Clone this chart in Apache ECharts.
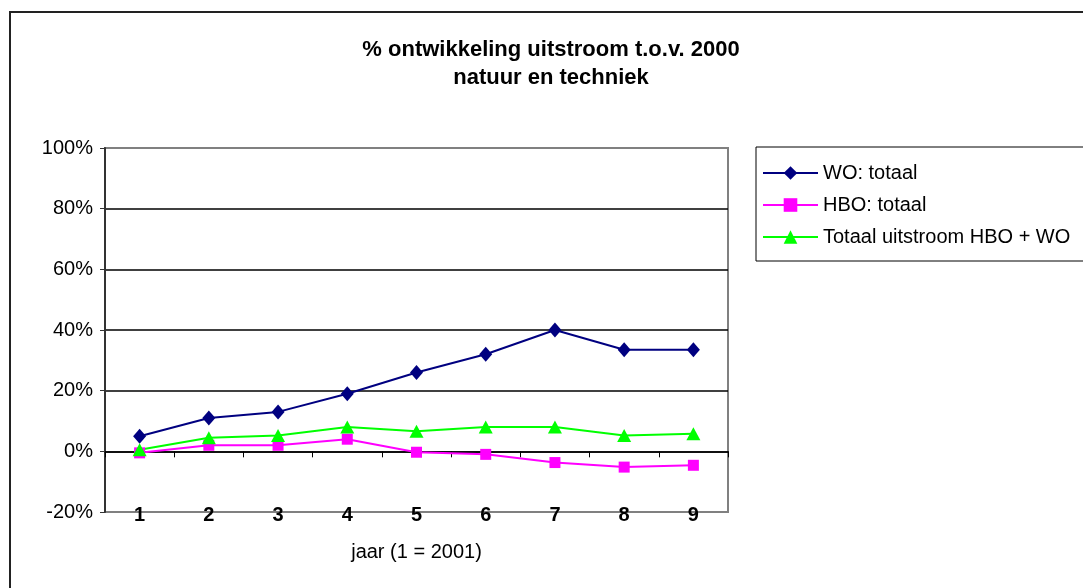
<!DOCTYPE html>
<html>
<head>
<meta charset="utf-8">
<title>% ontwikkeling uitstroom</title>
<script src="https://cdn.jsdelivr.net/npm/echarts@6/dist/echarts.min.js"></script>
<style>
  html, body { margin: 0; padding: 0; background: #fff; }
  #main { width: 1083px; height: 588px; }
</style>
</head>
<body>
<div id="main"></div>
<script>
// data (percent vs 2000)
const jaren = ['1', '2', '3', '4', '5', '6', '7', '8', '9']
const woTotaal = [5, 11, 13, 19, 26, 32, 40, 33.5, 33.5]
const hboTotaal = [-0.5, 2, 2, 4, -0.3, -1, -3.7, -5.2, -4.6]
const totaalUitstroom = [0.5, 4.5, 5.2, 8, 6.6, 8, 8, 5.2, 5.8]

const font = 'Liberation Sans, Arial, sans-serif'

const myChart = echarts.init(document.getElementById('main'))

const option = {
  backgroundColor: '#fff',
  animation: false,
  // outer chart border (cut off on the right and bottom)
  graphic: [{
    type: 'rect',
    shape: { x: 10, y: 12, width: 1200, height: 700 },
    style: { fill: 'none', stroke: '#222', lineWidth: 2 },
    silent: true
  }],
  title: {
    text: '% ontwikkeling uitstroom t.o.v. 2000\nnatuur en techniek',
    left: 546,
    top: 31,
    textAlign: 'center',
    textStyle: {
      fontFamily: font,
      fontSize: 22,
      fontWeight: 'bold',
      color: '#000',
      lineHeight: 28
    }
  },
  legend: {
    orient: 'vertical',
    left: 756,
    top: 147,
    padding: [15, 20, 13, 6],
    itemWidth: 55,
    itemHeight: 17,
    itemGap: 10,
    borderColor: '#000',
    borderWidth: 1,
    textStyle: { fontFamily: font, fontSize: 20, color: '#000', lineHeight: 22 },
    data: ['WO: totaal', 'HBO: totaal', 'Totaal uitstroom HBO + WO']
  },
  grid: {
    left: 105,
    top: 148,
    width: 623,
    height: 364,
    show: true,
    borderColor: '#808080',
    borderWidth: 2,
    backgroundColor: '#fff'
  },
  xAxis: [
    {
      // axis line on 0% with ticks between the years
      type: 'category',
      data: jaren,
      axisLine: { onZero: true, lineStyle: { color: '#000', width: 1.5 } },
      axisTick: { show: true, length: 6, lineStyle: { color: '#000' } },
      axisLabel: { show: false },
      splitLine: { show: false }
    },
    {
      // labels at the bottom of the plot
      type: 'category',
      data: jaren,
      position: 'bottom',
      axisLine: { show: false, onZero: false },
      axisTick: { show: false },
      axisLabel: {
        margin: -7,
        fontFamily: font,
        fontSize: 20,
        fontWeight: 'bold',
        color: '#000'
      },
      name: 'jaar (1 = 2001)',
      nameLocation: 'middle',
      nameGap: 30,
      nameTextStyle: { fontFamily: font, fontSize: 20, color: '#000' }
    }
  ],
  yAxis: {
    type: 'value',
    min: -20,
    max: 100,
    interval: 20,
    axisLine: { show: true, lineStyle: { color: '#333', width: 2 } },
    axisTick: { show: true, length: 5, lineStyle: { color: '#333' } },
    axisLabel: {
      formatter: '{value}%',
      margin: 12,
      fontFamily: font,
      fontSize: 20,
      color: '#000'
    },
    splitLine: {
      show: true,
      showMinLine: false,
      showMaxLine: false,
      lineStyle: { color: '#000', width: 1.5 }
    }
  },
  series: [
    {
      name: 'WO: totaal',
      type: 'line',
      data: woTotaal,
      color: '#000080',
      symbol: 'diamond',
      symbolSize: [13, 15],
      lineStyle: { width: 2 }
    },
    {
      name: 'HBO: totaal',
      type: 'line',
      data: hboTotaal,
      color: '#ff00ff',
      symbol: 'rect',
      symbolSize: 11,
      lineStyle: { width: 2 }
    },
    {
      name: 'Totaal uitstroom HBO + WO',
      type: 'line',
      data: totaalUitstroom,
      color: '#00ff00',
      symbol: 'triangle',
      symbolSize: [14, 13],
      lineStyle: { width: 2 }
    }
  ]
}

myChart.setOption(option)
</script>
</body>
</html>
